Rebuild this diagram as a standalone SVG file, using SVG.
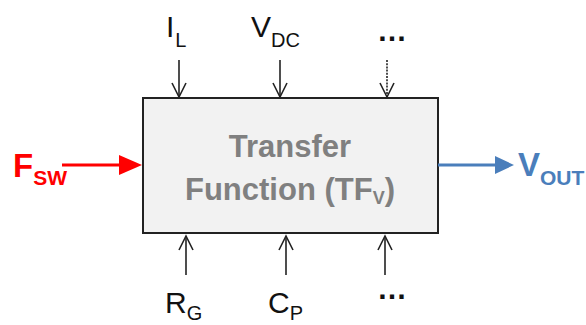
<svg xmlns="http://www.w3.org/2000/svg" width="586" height="325" viewBox="0 0 586 325">
<style>
.lbl{font-family:"Liberation Sans",Arial,sans-serif;font-size:30px;fill:#111}
.sub{font-size:20px}
.big{font-family:"Liberation Sans",Arial,sans-serif;font-size:33px;font-weight:bold}
.bsub{font-size:21px}
.conn{stroke:#222;stroke-width:1.6;fill:none}
.head{stroke:#222;stroke-width:1.6;fill:none;stroke-linejoin:miter}
.title{font-family:"Liberation Sans",Arial,sans-serif;font-size:31px;font-weight:bold;fill:#808080}
</style>
<g id="tf-box">
<rect x="143" y="98" width="295" height="135" fill="#f2f2f2" stroke="#222" stroke-width="2"/>
<text class="title" x="290" y="157" text-anchor="middle">Transfer</text>
<text class="title" x="185" y="200">Function (TF<tspan font-size="18" dy="4">V</tspan><tspan dy="-4">)</tspan></text>
</g>
<g id="in-IL"><text class="lbl" x="166" y="37">I<tspan class="sub" dx="1" dy="10">L</tspan></text></g>
<g id="in-VDC"><text class="lbl" x="251" y="37">V<tspan class="sub" dy="10">DC</tspan></text></g>
<g id="in-top-more"><text class="lbl" x="377" y="41" font-weight="bold" font-size="24">…</text></g>
<g id="in-RG"><text class="lbl" x="165" y="313">R<tspan class="sub" dy="7">G</tspan></text></g>
<g id="in-CP"><text class="lbl" x="268" y="313">C<tspan class="sub" dy="7">P</tspan></text></g>
<g id="in-bottom-more"><text class="lbl" x="377" y="299" font-weight="bold" font-size="24">…</text></g>
<g id="in-FSW"><text class="big" x="13" y="177" fill="#ff0000">F<tspan class="bsub" dy="8">SW</tspan></text></g>
<g id="out-VOUT"><text class="big" x="518" y="176" fill="#4a7ebb">V<tspan class="bsub" dy="9">OUT</tspan></text></g>
<g id="connectors">
<line class="conn" x1="179" y1="60" x2="179" y2="97"/>
<polyline class="head" points="172,83 179,97 186,83"/>
<line class="conn" x1="280" y1="60" x2="280" y2="97"/>
<polyline class="head" points="273,83 280,97 287,83"/>
<line class="conn" x1="387" y1="60" x2="387" y2="97" stroke-dasharray="2 1.2"/>
<polyline class="head" points="380,83 387,97 394,83"/>
<line class="conn" x1="186" y1="275" x2="186" y2="236"/>
<polyline class="head" points="179,250 186,236 193,250"/>
<line class="conn" x1="286" y1="275" x2="286" y2="236"/>
<polyline class="head" points="279,250 286,236 293,250"/>
<line class="conn" x1="385" y1="275" x2="385" y2="236"/>
<polyline class="head" points="378,250 385,236 392,250"/>
<line x1="62" y1="165" x2="122" y2="165" stroke="#ff0000" stroke-width="3"/>
<polygon points="119,155 142,165 119,175" fill="#ff0000"/>
<line x1="438" y1="165" x2="498" y2="165" stroke="#4a7ebb" stroke-width="3"/>
<polygon points="495,156 514,165 495,174" fill="#4a7ebb"/>
</g>
</svg>
